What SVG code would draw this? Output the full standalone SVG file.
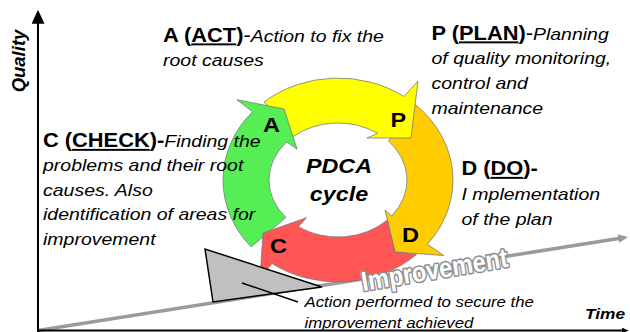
<svg xmlns="http://www.w3.org/2000/svg" width="630" height="332" viewBox="0 0 630 332">
<defs>
<style>
text{font-family:"Liberation Sans",Arial,Helvetica,sans-serif;fill:#000}
.hd{font-size:19.5px;font-weight:bold}
.n{font-weight:normal}
.u{text-decoration:underline}
.it{font-size:17.4px;font-style:italic;font-weight:normal}
.note{font-size:15px;font-style:italic}
.axis{font-size:15.5px;font-weight:bold;font-style:italic}
.pdca{font-size:20.8px;font-weight:bold;font-style:italic;text-anchor:middle}
.letter{font-size:21px;font-weight:bold;text-anchor:middle}
.arrow{stroke:#7a7a7a;stroke-width:0.8;stroke-linejoin:miter}
.impr{font-size:27px;font-weight:bold;fill:#fff;stroke:#8f8f8f;stroke-width:3.2;paint-order:stroke;stroke-linejoin:round}
</style>
<marker id="mk-black-lg" viewBox="0 0 10 10" refX="2" refY="5" markerWidth="14" markerHeight="13" markerUnits="userSpaceOnUse" orient="auto" preserveAspectRatio="none"><path d="M0,0 L10,5 L0,10 Z" fill="#000"/></marker>
<marker id="mk-black-sm" viewBox="0 0 10 10" refX="2" refY="5" markerWidth="7" markerHeight="6" markerUnits="userSpaceOnUse" orient="auto" preserveAspectRatio="none"><path d="M0,0 L10,5 L0,10 Z" fill="#000"/></marker>
<marker id="mk-gray" viewBox="0 0 10 10" refX="2" refY="5" markerWidth="10" markerHeight="9" markerUnits="userSpaceOnUse" orient="auto" preserveAspectRatio="none"><path d="M0,0 L10,5 L0,10 Z" fill="#9a9a9a"/></marker>
</defs>
<rect width="630" height="332" fill="#fff"/>

<g id="connectors">
<line x1="38" y1="330.5" x2="620.1" y2="238.3" stroke="#9a9a9a" stroke-width="3.5" marker-end="url(#mk-gray)"/>
<line x1="38" y1="332" x2="38" y2="21" stroke="#000" stroke-width="2" marker-end="url(#mk-black-lg)"/>
<line x1="38" y1="330.5" x2="623" y2="330.5" stroke="#000" stroke-width="2" marker-end="url(#mk-black-sm)"/>
</g>

<g id="node-do-arrow">
<path class="arrow" fill="#ffcc00" d="M414.9,104.2 A115,102 0 0 1 427.4,244.2 L443.7,255.5 L395,252 L385,210 L391.6,215.9 A69,57 0 0 0 388.5,141.1 Z"/>
<text class="letter" transform="translate(410.5,241.5) scale(1.12,1)">D</text>
</g>
<g id="node-plan-arrow">
<path class="arrow" fill="#ffff00" d="M264.1,101.9 A115,102 0 0 1 404,96.5 L418,81 L411,138 L367,138 L377.6,133.3 A69,57 0 0 0 293.6,136.3 Z"/>
<text class="letter" transform="translate(398.3,126.7) scale(1.12,1)">P</text>
</g>
<g id="node-act-arrow">
<path class="arrow" fill="#55ee55" d="M251.2,246.9 A115,102 0 0 1 252.5,111.8 L236.9,99.7 L284,109 L297.1,149.2 L286.7,141.9 A69,57 0 0 0 285.9,217.4 Z"/>
<text class="letter" transform="translate(271.5,131.7) scale(1.12,1)">A</text>
</g>
<g id="node-check-arrow">
<path class="arrow" fill="#ff5555" d="M416.4,254.6 A115,102 0 0 1 272,263.6 L260,278.3 L263,233 L306.5,217.7 L298.4,226.7 A69,57 0 0 0 387.2,220 L395,252 Z"/>
<text class="letter" transform="translate(278.4,253) scale(1.12,1)">C</text>
</g>

<g id="node-center">
<text class="pdca" transform="translate(339,173) scale(1.12,1)">PDCA</text>
<text class="pdca" transform="translate(339,201) scale(1.12,1)">cycle</text>
</g>

<g id="node-wedge">
<polygon points="205,249 213,302 322,287" fill="#c0c0c0" stroke="#000" stroke-width="1.5" stroke-linejoin="miter"/>
</g>
<g id="leader-connector">
<line x1="242" y1="283" x2="298" y2="302" stroke="#000" stroke-width="1.5"/>
</g>

<g id="node-improvement">
<text class="impr" transform="translate(363,291) rotate(-9.5)" textLength="148" lengthAdjust="spacingAndGlyphs">Improvement</text>
</g>

<g id="node-act-text" transform="translate(163,41.5) scale(1.12,1)">
<text><tspan class="hd">A (<tspan class="u">ACT</tspan>)<tspan class="n">-</tspan></tspan><tspan class="it">Action to fix the</tspan><tspan class="it" x="0" y="25">root causes</tspan></text>
</g>
<g id="node-plan-text" transform="translate(431.5,39.5) scale(1.12,1)">
<text><tspan class="hd">P (<tspan class="u">PLAN</tspan>)<tspan class="n">-</tspan></tspan><tspan class="it">Planning</tspan><tspan class="it" x="0" y="25">of quality monitoring,</tspan><tspan class="it" x="0" y="50">control and</tspan><tspan class="it" x="0" y="75">maintenance</tspan></text>
</g>
<g id="node-check-text" transform="translate(43,147) scale(1.12,1)">
<text><tspan class="hd">C (<tspan class="u">CHECK</tspan>)-</tspan><tspan class="it">Finding the</tspan><tspan class="it" x="0" y="24.5">problems and their root</tspan><tspan class="it" x="0" y="49">causes. Also</tspan><tspan class="it" x="0" y="73.5">identification of areas for</tspan><tspan class="it" x="0" y="98">improvement</tspan></text>
</g>
<g id="node-do-text" transform="translate(461.5,175) scale(1.12,1)">
<text><tspan class="hd">D (<tspan class="u">DO</tspan>)-</tspan><tspan class="it" x="0" y="25.5">I mplementation</tspan><tspan class="it" x="0" y="50.5">of the plan</tspan></text>
</g>
<g id="node-action-note" transform="translate(304.5,307.3) scale(1.12,1)">
<text class="note"><tspan x="0" y="0">Action performed to secure the</tspan><tspan x="0" y="20.7">improvement achieved</tspan></text>
</g>
<g id="node-axis-labels">
<text class="axis" style="font-size:18.5px" text-anchor="middle" transform="translate(25,61) rotate(-90)">Quality</text>
<text class="axis" transform="translate(585,318.5) scale(1.12,1)">Time</text>
</g>
</svg>
